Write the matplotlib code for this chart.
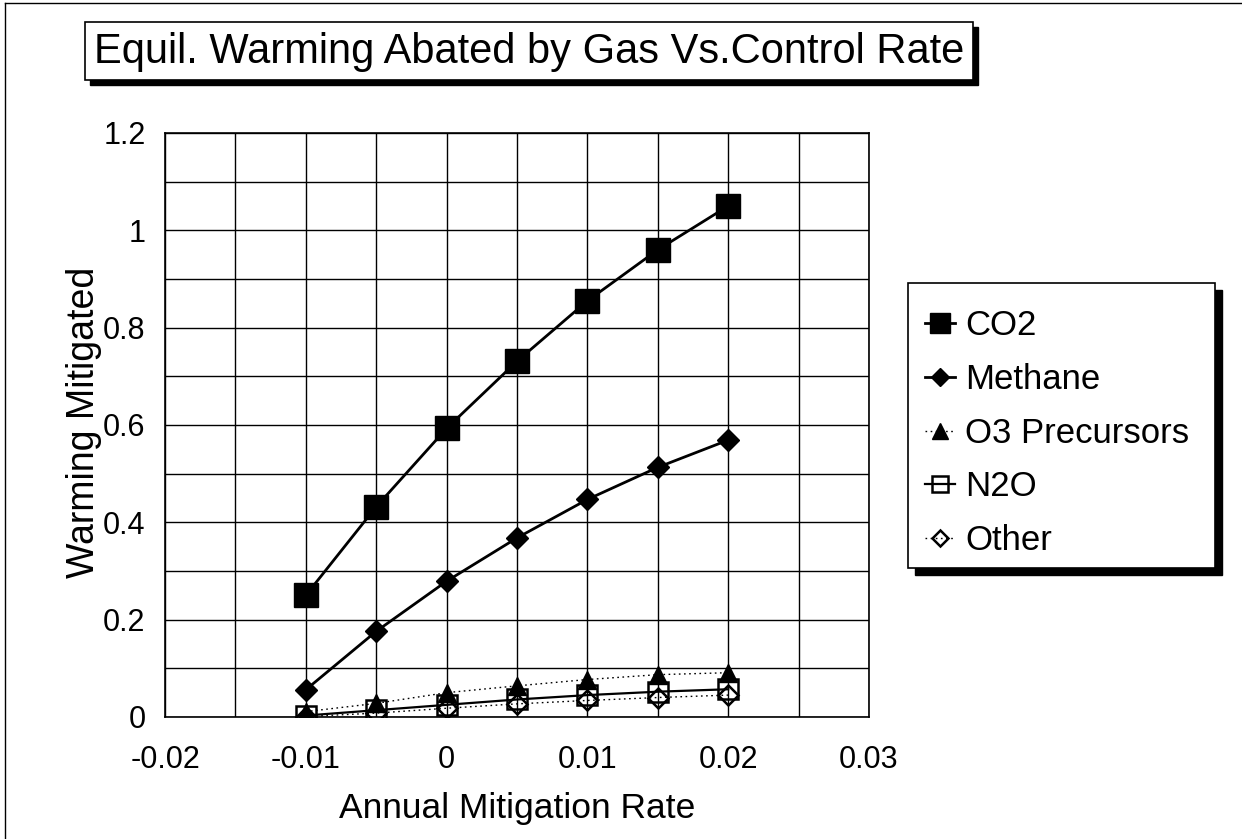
import matplotlib
matplotlib.use("Agg")
import matplotlib.pyplot as plt
from matplotlib.patches import Rectangle
from matplotlib.lines import Line2D
from matplotlib.ticker import MultipleLocator, FixedLocator, FixedFormatter

plt.rcParams['font.family'] = ['Liberation Sans', 'DejaVu Sans']

# ---- data ----
rates = [-0.01, -0.005, 0.0, 0.005, 0.01, 0.015, 0.02]
co2 = [0.250, 0.432, 0.593, 0.731, 0.855, 0.960, 1.050]
methane = [0.056, 0.176, 0.279, 0.368, 0.447, 0.513, 0.569]
o3_precursors = [0.011, 0.028, 0.050, 0.064, 0.077, 0.087, 0.091]
n2o = [0.003, 0.014, 0.025, 0.036, 0.045, 0.052, 0.057]
other = [0.001, 0.008, 0.018, 0.027, 0.034, 0.040, 0.045]

series_names = ['CO2', 'Methane', 'O3 Precursors', 'N2O', 'Other']
xtick_values = [-0.02, -0.01, 0.0, 0.01, 0.02, 0.03]
xtick_labels = ['-0.02', '-0.01', '0', '0.01', '0.02', '0.03']
ytick_values = [0.0, 0.2, 0.4, 0.6, 0.8, 1.0, 1.2]
ytick_labels = ['0', '0.2', '0.4', '0.6', '0.8', '1', '1.2']

title = 'Equil. Warming Abated by Gas Vs.Control Rate'
xlabel = 'Annual Mitigation Rate'
ylabel = 'Warming Mitigated'

W, H = 1242, 839
fig = plt.figure(figsize=(W / 100, H / 100), dpi=100)
fig.patch.set_facecolor('white')

def fx(px):
    return px / W

def fy(py):
    return 1 - py / H

# axes
ax_l, ax_r, ax_t, ax_b = 165, 869, 133, 717
ax = fig.add_axes([fx(ax_l), fy(ax_b), fx(ax_r - ax_l), (ax_b - ax_t) / H])
ax.set_xlim(-0.02, 0.03)
ax.set_ylim(0, 1.2)

ax.xaxis.set_major_locator(FixedLocator(xtick_values))
ax.xaxis.set_major_formatter(FixedFormatter(xtick_labels))
ax.yaxis.set_major_locator(FixedLocator(ytick_values))
ax.yaxis.set_major_formatter(FixedFormatter(ytick_labels))
ax.xaxis.set_minor_locator(MultipleLocator(0.005))
ax.yaxis.set_minor_locator(MultipleLocator(0.1))
ax.grid(True, which='both', color='black', linewidth=1.0)
ax.set_axisbelow(True)
ax.tick_params(axis='both', which='both', length=0)
ax.tick_params(axis='x', labelsize=22, pad=20)
ax.tick_params(axis='y', labelsize=22, pad=14)
for s in ax.spines.values():
    s.set_color('black')
    s.set_linewidth(1.2)

# series
ax.plot(rates, o3_precursors, color='black', linestyle=(0, (1.2, 2.5)), linewidth=1.0,
        marker='^', markersize=13, markerfacecolor='black', markeredgecolor='black',
        label=series_names[2], zorder=3)
ax.plot(rates, n2o, color='black', linestyle='-', linewidth=1.6,
        marker='s', markersize=14, markerfacecolor='none', markeredgecolor='black',
        markeredgewidth=1.8, label=series_names[3], zorder=4)
ax.plot(rates, other, color='black', linestyle=(0, (1.2, 2.5)), linewidth=1.0,
        marker='D', markersize=10, markerfacecolor='none', markeredgecolor='black',
        markeredgewidth=1.8, label=series_names[4], zorder=4)
ax.plot(rates, methane, color='black', linestyle='-', linewidth=2.0,
        marker='D', markersize=11, markerfacecolor='black', markeredgecolor='black',
        label=series_names[1], zorder=5)
ax.plot(rates, co2, color='black', linestyle='-', linewidth=2.0,
        marker='s', markersize=17, markerfacecolor='black', markeredgecolor='black',
        label=series_names[0], zorder=5)

# axis labels
ax.set_xlabel(xlabel, fontsize=25.5)
ax.xaxis.set_label_coords(0.5, (ax_b - 792) / (ax_b - ax_t))
ax.xaxis.label.set_va('top')
ax.set_ylabel(ylabel, fontsize=27)
ax.yaxis.set_label_coords((102 - ax_l) / (ax_r - ax_l), 0.505)

# legend
handles, labels = ax.get_legend_handles_labels()
order = [labels.index(n) for n in series_names]
leg = fig.legend([handles[i] for i in order], [labels[i] for i in order],
                 loc='upper left', bbox_to_anchor=(fx(925), fy(309)),
                 frameon=False, fontsize=25, handlelength=0.85, handletextpad=0.3,
                 labelspacing=0.6, borderpad=0, borderaxespad=0, markerscale=0.85)

# legend frame and shadow
lg_l, lg_r, lg_t, lg_b = 908, 1215, 283, 568
sh = 7
fig.patches.append(Rectangle((fx(lg_l + sh), fy(lg_b + sh)), fx(lg_r - lg_l), (lg_b - lg_t) / H,
                             transform=fig.transFigure, facecolor='black', edgecolor='black', zorder=0))
fig.patches.append(Rectangle((fx(lg_l), fy(lg_b)), fx(lg_r - lg_l), (lg_b - lg_t) / H,
                             transform=fig.transFigure, facecolor='white', edgecolor='black',
                             linewidth=1.2, zorder=0.5))

# title box with shadow
tb_l, tb_r, tb_t, tb_b = 85, 973, 22, 80
tsh = 5
fig.patches.append(Rectangle((fx(tb_l + tsh), fy(tb_b + tsh)), fx(tb_r - tb_l), (tb_b - tb_t) / H,
                             transform=fig.transFigure, facecolor='black', edgecolor='black', zorder=0))
fig.patches.append(Rectangle((fx(tb_l), fy(tb_b)), fx(tb_r - tb_l), (tb_b - tb_t) / H,
                             transform=fig.transFigure, facecolor='white', edgecolor='black',
                             linewidth=1.2, zorder=0.5))
fig.text(fx((tb_l + tb_r) / 2), fy((tb_t + tb_b) / 2 + 1), title, ha='center', va='center',
         fontsize=30, color='black')

# outer border (top and left)
fig.lines.append(Line2D([fx(5), fx(1242)], [fy(3), fy(3)], transform=fig.transFigure,
                        color='black', linewidth=1.0))
fig.lines.append(Line2D([fx(5), fx(5)], [fy(3), fy(839)], transform=fig.transFigure,
                        color='black', linewidth=1.0))

fig.savefig('out.png', dpi=100, facecolor='white')
